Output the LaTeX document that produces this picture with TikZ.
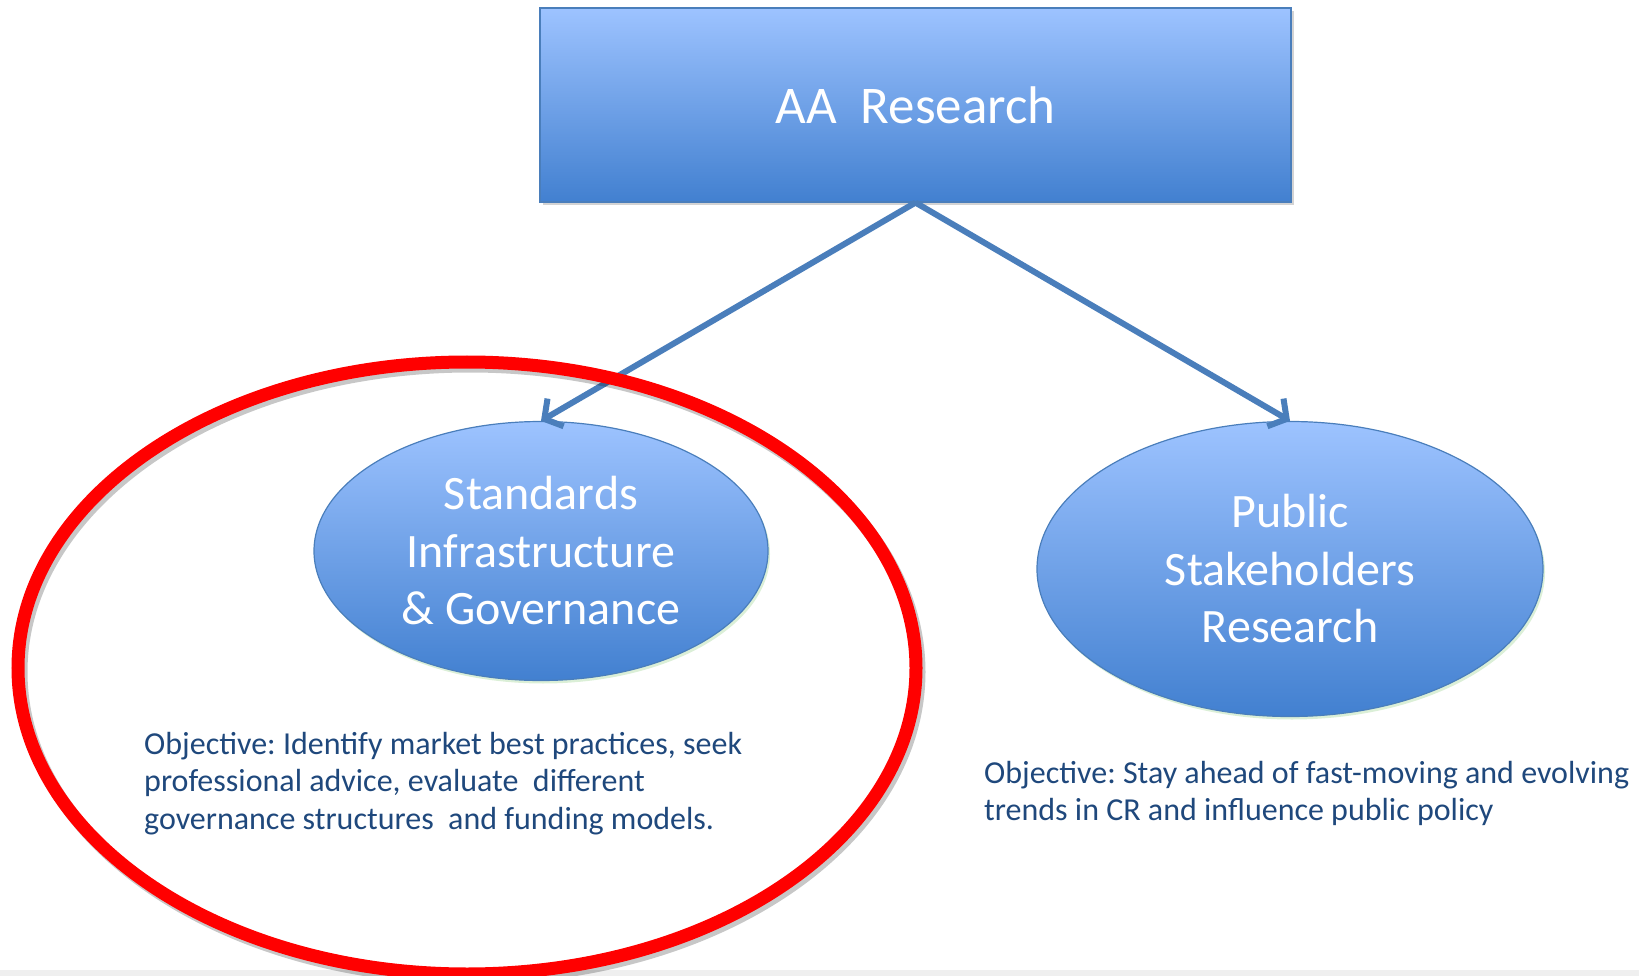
\documentclass[tikz,border=0pt]{standalone}
\usepackage{fontspec}
\setmainfont{Carlito}
\usetikzlibrary{arrows.meta,shapes.geometric,shadows}
\definecolor{boxtop}{HTML}{9DC3FF}
\definecolor{boxbot}{HTML}{4280D0}
\definecolor{boxline}{HTML}{4A7EBB}
\definecolor{objtext}{HTML}{1F487C}
\definecolor{stripgray}{HTML}{EFEFEF}
\definecolor{glow}{HTML}{B8E0B0}
\begin{document}
\frenchspacing
\begin{tikzpicture}[x=1pt,y=-1pt,
 blueshape/.style={draw=boxline, line width=1.2pt, top color=boxtop, bottom color=boxbot, text=white, align=center, inner sep=0pt},
 link/.style={draw=boxline, line width=6pt, -{Straight Barb[length=13pt,width=32pt,line width=6pt]}},
 objective/.style={text=objtext, align=left, anchor=north west, inner sep=0pt, font=\fontsize{32}{37.5}\selectfont}]
\useasboundingbox (0,0) rectangle (1639,976);
\fill[stripgray] (0,970) rectangle (1639,976);
\node[blueshape, rectangle, minimum width=751pt, minimum height=194pt,
  drop shadow={opacity=0.35, shadow xshift=3pt, shadow yshift=-3pt},
  font=\fontsize{53}{64}\selectfont] (aa) at (915.5,105) {AA\ \ Research};
\node[blueshape, ellipse, minimum width=454pt, minimum height=259pt,
  drop shadow={fill=glow, opacity=0.5, shadow xshift=2pt, shadow yshift=-3pt},
  font=\fontsize{48}{57.5}\selectfont] (sig) at (541,551) {Standards\\Infrastructure\\\& Governance};
\node[blueshape, ellipse, minimum width=506pt, minimum height=295pt,
  drop shadow={fill=glow, opacity=0.5, shadow xshift=2pt, shadow yshift=-3pt},
  font=\fontsize{48}{57.5}\selectfont] (psr) at (1290,569) {Public\\Stakeholders\\Research};
\draw[link] (aa.south) -- (sig.north);
\draw[link] (aa.south) -- (psr.north);
\node[objective] (objl) at (144,732) {Objective: Identify market best practices, seek\\professional advice, evaluate\ \ different\\governance structures\ \ and funding models.};
\node[objective] (objr) at (984,761) {Objective: Stay ahead of fast-moving and evolving\\trends in CR and influence public policy};
\draw[black, opacity=0.22, line width=13pt] (470,672) ellipse [x radius=449, y radius=306];
\draw[red, line width=13pt] (467,668) ellipse [x radius=449, y radius=306];
\end{tikzpicture}
\end{document}
